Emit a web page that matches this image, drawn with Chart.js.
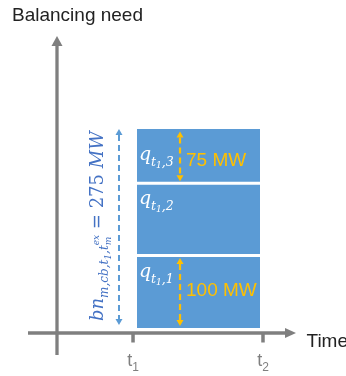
<!DOCTYPE html>
<html><head><meta charset="utf-8">
<script src="https://cdn.jsdelivr.net/npm/chart.js@4/dist/chart.umd.min.js"></script>
<style>html,body{margin:0;padding:0;background:#fff;overflow:hidden}</style>
</head><body>
<canvas id="c" width="346" height="376"></canvas>
<script>
// ---- data ----
const timeTicks = [1, 2];            // t1, t2
const tickLabelSubs = ['1', '2'];
const barSpan = [1.03, 1.977];       // start/end of the balancing block (time units)
const segmentSubs = ['1', '2', '3'];
const segmentValues = [100, 100, 75]; // MW, bottom to top
const annotatedSegments = [0, 2];    // segments with MW arrows
const totalNeed = 275;               // MW
const yAxisTitle = 'Balancing need';
const xAxisTitle = 'Time';

// ---- layout / style (not data) ----
const S = {
  axis: '#7f7f7f', bar: '#5b9bd5', blue: '#4472c4', blueArrow: '#5b9bd5',
  yellow: '#ffc000', text: '#222222',
  xMin: 0.415, xMax: 2.254, yMin: -7, yMax: 403.5,
  needArrowX: 0.892, mwArrowX: 1.3615,
  qOffsets: [21, 21, 31], mwDy: [4, 0, 10]
};

function rich(ctx, parts, x, y) {
  let cx = x, pending = 0;
  for (const p of parts) {
    ctx.font = (p.up ? '' : 'italic ') + p.s + 'px "DejaVu Serif"';
    const w = ctx.measureText(p.t).width;
    ctx.fillText(p.t, cx, y + (p.dy || 0));
    if (p.adv === false) { pending = w; continue; }
    cx += Math.max(w, pending); pending = 0;
  }
  return cx - x;
}

function dashedArrow(ctx, x, y1, y2, color, lw, dash, hw, hl) {
  ctx.save();
  ctx.strokeStyle = color; ctx.fillStyle = color; ctx.lineWidth = lw;
  ctx.setLineDash(dash);
  ctx.beginPath(); ctx.moveTo(x, y1 + hl); ctx.lineTo(x, y2 - hl); ctx.stroke();
  ctx.setLineDash([]);
  ctx.beginPath(); ctx.moveTo(x, y1); ctx.lineTo(x - hw, y1 + hl); ctx.lineTo(x + hw, y1 + hl); ctx.closePath(); ctx.fill();
  ctx.beginPath(); ctx.moveTo(x, y2); ctx.lineTo(x - hw, y2 - hl); ctx.lineTo(x + hw, y2 - hl); ctx.closePath(); ctx.fill();
  ctx.restore();
}

const decor = {
  id: 'decor',
  afterDraw(chart) {
    const ctx = chart.ctx, xs = chart.scales.x, ys = chart.scales.y, a = chart.chartArea;
    const ax = a.left, ay = a.bottom;
    ctx.save();
    // axes
    ctx.strokeStyle = S.axis; ctx.fillStyle = S.axis; ctx.lineWidth = 3.3;
    ctx.beginPath(); ctx.moveTo(ax, 355); ctx.lineTo(ax, a.top + 9); ctx.stroke();
    ctx.beginPath(); ctx.moveTo(ax, a.top); ctx.lineTo(ax - 5.5, a.top + 10); ctx.lineTo(ax + 5.5, a.top + 10); ctx.closePath(); ctx.fill();
    ctx.beginPath(); ctx.moveTo(28, ay); ctx.lineTo(a.right - 9, ay); ctx.stroke();
    ctx.beginPath(); ctx.moveTo(a.right, ay); ctx.lineTo(a.right - 11, ay - 5); ctx.lineTo(a.right - 11, ay + 5); ctx.closePath(); ctx.fill();
    // ticks + labels
    timeTicks.forEach((t, i) => {
      const px = xs.getPixelForValue(t);
      ctx.lineWidth = 3.5;
      ctx.beginPath(); ctx.moveTo(px, ay); ctx.lineTo(px, ay + 9.5); ctx.stroke();
      ctx.font = '18px "Liberation Sans"';
      const w1 = ctx.measureText('t').width;
      ctx.font = '12px "Liberation Sans"';
      const w2 = ctx.measureText(tickLabelSubs[i]).width;
      const x0 = px - (w1 + w2) / 2;
      ctx.textBaseline = 'alphabetic';
      ctx.font = '18px "Liberation Sans"'; ctx.fillText('t', x0, 366);
      ctx.font = '12px "Liberation Sans"'; ctx.fillText(tickLabelSubs[i], x0 + w1, 371);
    });
    // titles
    ctx.fillStyle = S.text;
    ctx.font = '19px "Liberation Sans"';
    ctx.fillText(yAxisTitle, 12, 20.5);
    ctx.fillText(xAxisTitle, 306.5, 347);

    // segment labels + MW arrows
    let cum = 0;
    segmentValues.forEach((v, i) => {
      const yb = ys.getPixelForValue(cum), yt = ys.getPixelForValue(cum + v);
      cum += v;
      ctx.fillStyle = '#ffffff';
      rich(ctx, [{t:'q', s:19}, {t:'t', s:12.5, dy:6}, {t:'1', s:9, dy:8}, {t:',' + segmentSubs[i], s:12.5, dy:6}],
           xs.getPixelForValue(barSpan[0]) + 2, yt + S.qOffsets[i]);
      if (annotatedSegments.includes(i)) {
        const mx = xs.getPixelForValue(S.mwArrowX);
        dashedArrow(ctx, mx, yt + 2.5, yb - 2, S.yellow, 2.2, [6, 4], 3.5, 6);
        ctx.fillStyle = S.yellow;
        ctx.font = '19px "Liberation Sans"';
        ctx.fillText(v + ' MW', mx + 6, (yt + yb) / 2 + S.mwDy[i]);
      }
    });

    // total need arrow + rotated label
    const nx = xs.getPixelForValue(S.needArrowX);
    dashedArrow(ctx, nx, ys.getPixelForValue(totalNeed), ys.getPixelForValue(0) - 3, S.blueArrow, 2, [6, 4], 3.5, 6);
    ctx.save();
    ctx.translate(103, 321);
    ctx.rotate(-Math.PI / 2);
    ctx.fillStyle = S.blue;
    rich(ctx, [
      {t:'bn', s:18}, {t:'m,cb,t', s:12, dy:5}, {t:'1', s:9, dy:8}, {t:',t', s:12, dy:5},
      {t:'ex', s:9, dy:-4, adv:false}, {t:'m', s:9, dy:8},
      {t:' = ' + totalNeed + ' ', s:18, up:true}, {t:'MW', s:18}
    ], 0, 0);
    ctx.restore();
    ctx.restore();
  }
};

const datasets = [{ data: barSpan.map(x => ({x, y: 0})), borderWidth: 0, pointRadius: 0, fill: false }];
segmentValues.forEach((v, i) => datasets.push({
  data: barSpan.map(x => ({x, y: v})), fill: '-1', backgroundColor: S.bar,
  borderColor: '#ffffff', borderWidth: i === segmentValues.length - 1 ? 0 : 3, pointRadius: 0
}));

new Chart(document.getElementById('c'), {
  type: 'line',
  data: { datasets },
  options: {
    responsive: false, animation: false, devicePixelRatio: 1,
    layout: { padding: { left: 57, right: 50, top: 36, bottom: 43 } },
    scales: {
      x: { type: 'linear', display: false, min: S.xMin, max: S.xMax },
      y: { type: 'linear', display: false, min: S.yMin, max: S.yMax, stacked: true }
    },
    plugins: { legend: { display: false }, tooltip: { enabled: false }, filler: { drawTime: 'beforeDatasetsDraw' } }
  },
  plugins: [decor]
});
</script>
</body></html>
